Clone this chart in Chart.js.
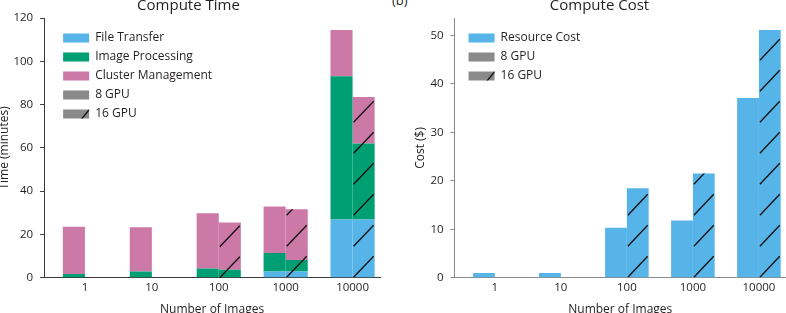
<!DOCTYPE html>
<html>
<head>
<meta charset="utf-8">
<script src="https://cdn.jsdelivr.net/npm/chart.js@4.4.1/dist/chart.umd.min.js"></script>
<style>
  html, body { margin: 0; padding: 0; background: #fff; overflow: hidden; width: 786px; height: 313px; }
  .box { position: absolute; }
  #panelB { position: absolute; left: 392px; top: -9px; font: 13px "Open Sans", sans-serif; color: #231f20; }
</style>
</head>
<body>
<div class="box" style="left:-3px; top:-6px; width:395px; height:327px;"><canvas id="timeChart"></canvas></div>
<div id="panelB">(b)</div>
<div class="box" style="left:413px; top:-6px; width:373px; height:327px;"><canvas id="costChart"></canvas></div>
<script>
// categories (number of images)
const categories = ["1", "10", "100", "1000", "10000"];
const catIndex = [0, 1, 2, 3, 4];

// compute time (minutes), 8 GPU
const fileTransfer8 = [0, 0, 0, 2.9, 26.9];
const imageProc8 = [1.8, 2.9, 4.3, 8.5, 66.2];
const clusterMgmt8 = [21.8, 20.4, 25.5, 21.5, 21.4];
// compute time (minutes), 16 GPU
const fileTransfer16 = [null, null, 0, 2.9, 26.9];
const imageProc16 = [null, null, 3.7, 5.3, 35.1];
const clusterMgmt16 = [null, null, 21.9, 23.5, 21.5];

// compute cost ($)
const cost8 = [1.0, 1.0, 10.35, 11.8, 37.1];
const cost16 = [null, null, 18.5, 21.5, 51.1];

const timeTicks = [0, 20, 40, 60, 80, 100, 120];
const costTicks = [0, 10, 20, 30, 40, 50];

const BLUE = "#56b4e9";
const GREEN = "#009e73";
const PINK = "#cc79a7";
const GRAY = "#8a8a8a";
const TEXT = "#231f20";
const FONT = "'Open Sans', sans-serif";

const pts = (arr) => catIndex.map((x, i) => ({ x: x, y: arr[i] }));

// diagonal hatch over the 16 GPU stacks and on the legend swatch
const hatchPlugin = {
  id: "hatch16",
  afterDatasetsDraw(chart) {
    const ctx = chart.ctx;
    const metas = chart.data.datasets
      .map((d, i) => (d.stack === "16" ? chart.getDatasetMeta(i) : null))
      .filter(Boolean);
    if (!metas.length) return;
    const n = metas[0].data.length;
    ctx.save();
    ctx.strokeStyle = "#111";
    ctx.lineWidth = 1.3;
    for (let j = 0; j < n; j++) {
      let left = null, right = null, bottom = -Infinity, top = Infinity;
      metas.forEach((m) => {
        const el = m.data[j];
        const raw = m._parsed[j];
        if (!el || !raw || raw.y === null || isNaN(el.y)) return;
        const p = el.getProps(["x", "y", "base", "width"], true);
        left = p.x - p.width / 2;
        right = p.x + p.width / 2;
        bottom = Math.max(bottom, p.base, p.y);
        top = Math.min(top, p.y, p.base);
      });
      if (left === null || bottom - top < 1) continue;
      ctx.save();
      ctx.beginPath();
      ctx.rect(left, top, right - left, bottom - top);
      ctx.clip();
      ctx.beginPath();
      for (let y0 = bottom; y0 > top - 30; y0 -= 31) {
        ctx.moveTo(left + 1, y0);
        ctx.lineTo(right - 1, y0 - 21);
      }
      ctx.stroke();
      ctx.restore();
    }
    ctx.restore();
  },
  afterDraw(chart) {
    const lg = chart.legend;
    if (!lg || !lg.legendHitBoxes) return;
    const items = lg.legendItems;
    const idx = items.findIndex((it) => it.text === "16 GPU");
    if (idx < 0) return;
    const hb = lg.legendHitBoxes[idx];
    const bw = chart.options.plugins.legend.labels.boxWidth;
    const bh = chart.options.plugins.legend.labels.boxHeight;
    const fs = chart.options.plugins.legend.labels.font.size;
    const x0 = hb.left, y0 = hb.top + (fs - bh) / 2;
    const ctx = chart.ctx;
    ctx.save();
    ctx.beginPath();
    ctx.rect(x0, y0, bw, bh);
    ctx.clip();
    ctx.strokeStyle = "#111";
    ctx.lineWidth = 1.3;
    ctx.beginPath();
    ctx.moveTo(x0 + bw - 8, y0 + bh + 1);
    ctx.lineTo(x0 + bw + 1, y0 - 1);
    ctx.stroke();
    ctx.restore();
  }
};

// place the in-area legend a little away from the axis
const legendShift = {
  id: "legendShift",
  afterLayout(chart, args, opts) {
    const lg = chart.legend;
    if (!lg) return;
    const w = lg.width, h = lg.height;
    lg.left = chart.chartArea.left + opts.dx;
    lg.right = lg.left + w;
    lg.top = chart.chartArea.top + opts.dy;
    lg.bottom = lg.top + h;
  }
};

function makeChart(canvasId, cfg) {
  const legendLabels = cfg.legendNames.map((name, i) => ({
    text: name,
    fillStyle: cfg.legendColors[i],
    strokeStyle: cfg.legendColors[i],
    lineWidth: 0,
    fontColor: TEXT,
    hidden: false,
    datasetIndex: i
  }));

  return new Chart(document.getElementById(canvasId), {
    type: "bar",
    data: { datasets: cfg.datasets },
    plugins: [hatchPlugin, legendShift],
    options: {
      responsive: true,
      maintainAspectRatio: false,
      animation: false,
      layout: { padding: { left: 0, right: cfg.padRight, top: 0, bottom: 0 } },
      datasets: { bar: { categoryPercentage: 0.66, barPercentage: 1, borderWidth: 0 } },
      plugins: {
        title: {
          display: true,
          text: cfg.title,
          color: TEXT,
          font: { family: FONT, size: 15, weight: "normal", lineHeight: 1.2 },
          padding: { top: 3, bottom: 3 }
        },
        legend: {
          position: "chartArea",
          align: "start",
          onClick: null,
          labels: {
            boxWidth: 26,
            boxHeight: 9,
            padding: 7,
            color: TEXT,
            font: { family: FONT, size: 12 },
            generateLabels: () => legendLabels
          }
        },
        legendShift: { dx: cfg.legendDx, dy: 7 },
        tooltip: { enabled: false }
      },
      scales: {
        x: {
          type: "linear",
          offset: false,
          min: -0.61,
          max: 4.41,
          afterBuildTicks: (scale) => { scale.ticks = catIndex.map((v) => ({ value: v })); },
          ticks: {
            autoSkip: false,
            maxRotation: 0,
            padding: 3,
            color: TEXT,
            font: { family: FONT, size: 11.5 },
            callback: (v) => categories[v]
          },
          grid: { drawOnChartArea: false, drawTicks: false },
          border: { color: cfg.axisColor, width: 1 },
          title: {
            display: true,
            text: "Number of Images",
            color: TEXT,
            font: { family: FONT, size: 12 },
            padding: { top: 5, bottom: 4 }
          }
        },
        y: {
          stacked: true,
          min: 0,
          max: cfg.yMax,
          afterBuildTicks: (scale) => { scale.ticks = cfg.yTicks.map((v) => ({ value: v })); },
          ticks: {
            padding: 7,
            color: TEXT,
            font: { family: FONT, size: 11.5 }
          },
          grid: { drawOnChartArea: false, drawTicks: true, tickLength: 4, color: cfg.axisColor },
          border: { color: cfg.axisColor, width: 1 },
          title: {
            display: true,
            text: cfg.yTitle,
            color: TEXT,
            font: { family: FONT, size: 12 },
            padding: { top: 0, bottom: cfg.yTitlePad }
          }
        }
      }
    }
  });
}

makeChart("timeChart", {
  title: "Compute Time",
  yTitle: "Time (minutes)",
  yTitlePad: -5,
  yMax: 120,
  yTicks: timeTicks,
  padRight: 12,
  legendDx: 12,
  axisColor: "#3a3a3a",
  legendNames: ["File Transfer", "Image Processing", "Cluster Management", "8 GPU", "16 GPU"],
  legendColors: [BLUE, GREEN, PINK, GRAY, GRAY],
  datasets: [
    { label: "File Transfer 8", stack: "8", data: pts(fileTransfer8), backgroundColor: BLUE },
    { label: "Image Processing 8", stack: "8", data: pts(imageProc8), backgroundColor: GREEN },
    { label: "Cluster Management 8", stack: "8", data: pts(clusterMgmt8), backgroundColor: PINK },
    { label: "File Transfer 16", stack: "16", data: pts(fileTransfer16), backgroundColor: BLUE },
    { label: "Image Processing 16", stack: "16", data: pts(imageProc16), backgroundColor: GREEN },
    { label: "Cluster Management 16", stack: "16", data: pts(clusterMgmt16), backgroundColor: PINK }
  ]
});

makeChart("costChart", {
  title: "Compute Cost",
  yTitle: "Cost ($)",
  yTitlePad: -4,
  yMax: 53.6,
  yTicks: costTicks,
  padRight: 0,
  legendDx: 7,
  axisColor: "#8a8a8a",
  legendNames: ["Resource Cost", "8 GPU", "16 GPU"],
  legendColors: [BLUE, GRAY, GRAY],
  datasets: [
    { label: "Resource Cost 8", stack: "8", data: pts(cost8), backgroundColor: BLUE },
    { label: "Resource Cost 16", stack: "16", data: pts(cost16), backgroundColor: BLUE }
  ]
});
</script>
</body>
</html>
